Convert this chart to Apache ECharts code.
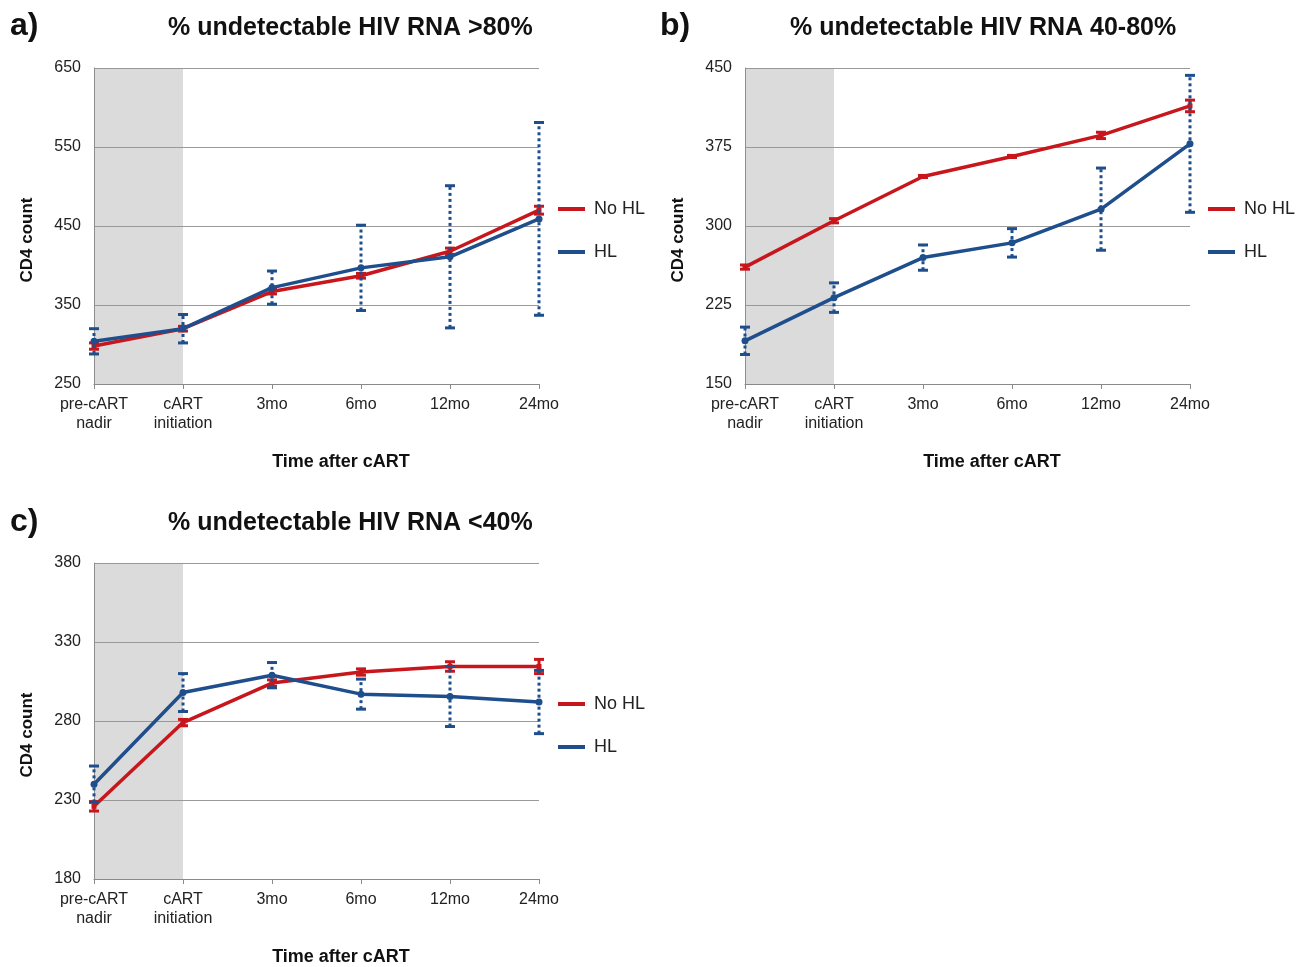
<!DOCTYPE html>
<html>
<head>
<meta charset="utf-8">
<script src="https://cdn.jsdelivr.net/npm/echarts@6/dist/echarts.min.js"></script>
<style>
html,body{margin:0;padding:0;background:#fff;}
#chart{width:1307px;height:967px;}
</style>
</head>
<body>
<div id="chart"></div>
<script>
// ---- data ----
const categories = ['pre-cART\nnadir', 'cART\ninitiation', '3mo', '6mo', '12mo', '24mo'];

const aNoHL    = [298, 320, 367, 387, 418, 470];
const aNoHLErr = [4, 3, 3, 3, 4, 5];
const aHL      = [304, 320, 372, 397, 411, 459];
const aHLErr   = [16, 18, 21, 54, 90, 122];

const bNoHL    = [261, 305, 347, 366, 386, 414];
const bNoHLErr = [2, 2, 1, 1, 3, 5.5];
const bHL      = [191, 232, 270, 284, 316, 378];
const bHLErr   = [13, 14, 12, 13.5, 39, 65];

const cNoHL    = [226, 279, 304, 311, 314.5, 314.5];
const cNoHLErr = [3, 2, 2, 2, 3, 4.5];
const cHL      = [240, 298, 309, 297, 295.5, 292];
const cHLErr   = [11.5, 12, 8, 9.5, 19, 20];

const panelTitles = ['% undetectable HIV RNA >80%', '% undetectable HIV RNA 40-80%', '% undetectable HIV RNA <40%'];
const panelLetters = ['a)', 'b)', 'c)'];
const yTicksA = {min: 250, max: 650, interval: 100};
const yTicksB = {min: 150, max: 450, interval: 75};
const yTicksC = {min: 180, max: 380, interval: 50};

// ---- styling ----
const RED = '#c8161d';
const BLUE = '#1f4e8c';
const FONT = '"Liberation Sans", Arial, sans-serif';

const grids = [
  {left: 94, top: 68, width: 445, height: 316},
  {left: 745, top: 68, width: 445, height: 316},
  {left: 94, top: 563, width: 445, height: 316}
];
const yTicks = [yTicksA, yTicksB, yTicksC];
const panels = [
  {noHL: aNoHL, noHLErr: aNoHLErr, hl: aHL, hlErr: aHLErr},
  {noHL: bNoHL, noHLErr: bNoHLErr, hl: bHL, hlErr: bHLErr},
  {noHL: cNoHL, noHLErr: cNoHLErr, hl: cHL, hlErr: cHLErr}
];

function errData(mean, err) {
  return mean.map((m, i) => [i, m - err[i], m + err[i]]);
}

function errRender(color, dashed) {
  return function (params, api) {
    const x = api.value(0);
    const lo = api.coord([x, api.value(1)]);
    const hi = api.coord([x, api.value(2)]);
    const cap = 5;
    const lw = 3;
    return {
      type: 'group',
      children: [
        {type: 'line', shape: {x1: lo[0], y1: lo[1], x2: hi[0], y2: hi[1]},
          style: {stroke: color, lineWidth: lw, lineDash: dashed ? [3, 3] : null}},
        {type: 'line', shape: {x1: hi[0] - cap, y1: hi[1], x2: hi[0] + cap, y2: hi[1]},
          style: {stroke: color, lineWidth: lw}},
        {type: 'line', shape: {x1: lo[0] - cap, y1: lo[1], x2: lo[0] + cap, y2: lo[1]},
          style: {stroke: color, lineWidth: lw}}
      ]
    };
  };
}

const xAxes = [], yAxes = [], series = [], titles = [], legends = [], graphics = [];

grids.forEach((g, k) => {
  xAxes.push({
    type: 'category', gridIndex: k, data: categories, boundaryGap: false,
    axisLine: {lineStyle: {color: '#8a8a8a', width: 1}},
    axisTick: {show: true, length: 5, lineStyle: {color: '#8a8a8a'}},
    axisLabel: {color: '#222', fontFamily: FONT, fontSize: 16, margin: 11, lineHeight: 19, interval: 0},
    splitLine: {show: false}
  });
  yAxes.push({
    type: 'value', gridIndex: k, min: yTicks[k].min, max: yTicks[k].max, interval: yTicks[k].interval,
    axisLine: {show: true, lineStyle: {color: '#8a8a8a', width: 1}},
    axisTick: {show: false},
    axisLabel: {color: '#222', fontFamily: FONT, fontSize: 16, margin: 13},
    splitLine: {show: true, lineStyle: {color: '#9a9a9a', width: 1}}
  });
  const p = panels[k];
  series.push({
    name: 'No HL', type: 'line', xAxisIndex: k, yAxisIndex: k, data: p.noHL,
    lineStyle: {color: RED, width: 3.5}, itemStyle: {color: RED},
    symbol: 'rect', symbolSize: 5, z: 3,
    markArea: {
      silent: true,
      itemStyle: {color: 'rgba(150,150,150,0.34)'},
      data: [[{xAxis: 0}, {xAxis: 1}]]
    }
  });
  series.push({
    name: 'No HL', type: 'custom', xAxisIndex: k, yAxisIndex: k,
    data: errData(p.noHL, p.noHLErr), renderItem: errRender(RED, false),
    encode: {x: 0, y: [1, 2]}, z: 4, silent: true
  });
  series.push({
    name: 'HL', type: 'line', xAxisIndex: k, yAxisIndex: k, data: p.hl,
    lineStyle: {color: BLUE, width: 3.5}, itemStyle: {color: BLUE},
    symbol: 'circle', symbolSize: 7, z: 5
  });
  series.push({
    name: 'HL', type: 'custom', xAxisIndex: k, yAxisIndex: k,
    data: errData(p.hl, p.hlErr), renderItem: errRender(BLUE, true),
    encode: {x: 0, y: [1, 2]}, z: 6, silent: true
  });

  const tLeft = k === 1 ? 790 : 168;
  const tTop = k === 2 ? 511 : 16;
  titles.push({
    text: panelTitles[k], left: tLeft, top: tTop, padding: 0,
    textStyle: {fontFamily: FONT, fontSize: 25, fontWeight: 'bold', color: '#111'}
  });
  titles.push({
    text: panelLetters[k], left: k === 1 ? 660 : 10, top: k === 2 ? 506 : 10, padding: 0,
    textStyle: {fontFamily: FONT, fontSize: 32, fontWeight: 'bold', color: '#111'}
  });

  legends.push({
    data: [{name: 'No HL', icon: 'rect'}, {name: 'HL', icon: 'rect'}],
    orient: 'vertical',
    left: k === 1 ? 1208 : 558,
    top: k === 2 ? 695 : 200,
    padding: 0, itemWidth: 27, itemHeight: 4, itemGap: 25,
    textStyle: {fontFamily: FONT, fontSize: 18, color: '#222', padding: [0, 0, 0, 4]},
    selectedMode: false
  });

  const gx = g.left - 67;
  graphics.push({
    type: 'text', x: gx, y: g.top + 172, rotation: Math.PI / 2,
    style: {text: 'CD4 count', font: 'bold 17px ' + FONT, fill: '#111', textAlign: 'center', textVerticalAlign: 'middle'}
  });
  graphics.push({
    type: 'text', x: g.left + 247, y: g.top + 394,
    style: {text: 'Time after cART', font: 'bold 18px ' + FONT, fill: '#111', textAlign: 'center', textVerticalAlign: 'middle'}
  });
});

const chart = echarts.init(document.getElementById('chart'), null, {renderer: 'canvas'});
chart.setOption({
  backgroundColor: '#fff',
  animation: false,
  title: titles,
  legend: legends,
  grid: grids,
  xAxis: xAxes,
  yAxis: yAxes,
  series: series,
  graphic: graphics
});
</script>
</body>
</html>
